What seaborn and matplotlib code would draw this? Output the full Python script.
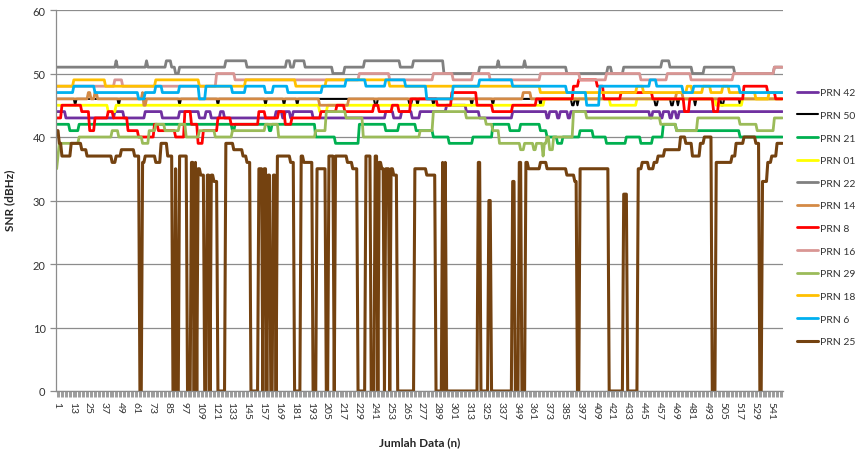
import numpy as np
import pandas as pd
import seaborn as sns
import matplotlib.pyplot as plt
from matplotlib.ticker import MultipleLocator

N = 550  # jumlah data

# (start index, SNR value) pairs, each value holds until the next start
prn42 = [(1, 44), (8, 43), (45, 44), (52, 43), (68, 44), (81, 43), (94, 44), (109, 43), (114, 44), (118, 43),
         (125, 44), (128, 43), (167, 44), (172, 43), (174, 44), (178, 43), (180, 44), (195, 43), (250, 44),
         (256, 43), (262, 44), (270, 43), (276, 44), (296, 45), (311, 44), (321, 43), (346, 44), (372, 43),
         (374, 44), (380, 43), (382, 44), (388, 43), (390, 44), (450, 43), (452, 44), (458, 43), (460, 44),
         (465, 43), (467, 44), (470, 43), (472, 44)]
prn50 = [(1, 46), (15, 45), (16, 46), (48, 45), (49, 46), (94, 45), (95, 46), (123, 45), (124, 46), (159, 45),
         (160, 46), (173, 45), (174, 46), (183, 45), (184, 46), (242, 45), (244, 46), (268, 45), (270, 46),
         (274, 45), (275, 46), (286, 45), (287, 46), (315, 45), (316, 46), (331, 45), (332, 46), (367, 45),
         (368, 46), (391, 45), (393, 46), (395, 45), (396, 46), (454, 45), (456, 46), (466, 45), (468, 46),
         (471, 45), (472, 46), (484, 45), (485, 46), (504, 45), (506, 46), (518, 45), (519, 46)]
prn21 = [(1, 42), (11, 41), (18, 42), (134, 41), (136, 42), (162, 41), (164, 42), (197, 40), (212, 39),
         (230, 42), (250, 41), (260, 42), (273, 41), (286, 40), (298, 39), (316, 40), (331, 42), (344, 41),
         (352, 42), (367, 41), (372, 40), (380, 39), (384, 40), (397, 41), (407, 40), (417, 39), (432, 40),
         (443, 39), (452, 40), (460, 42), (470, 41), (518, 40)]
prn01 = [(1, 45), (40, 44), (46, 45), (200, 44), (206, 45), (370, 46), (420, 45), (440, 46), (500, 45), (520, 46)]
prn22 = [(1, 51), (46, 52), (47, 51), (69, 52), (70, 51), (84, 52), (88, 51), (91, 50), (94, 51), (129, 52),
         (145, 51), (175, 52), (178, 51), (181, 52), (189, 51), (210, 50), (219, 51), (234, 52), (261, 51),
         (271, 52), (294, 50), (321, 51), (335, 52), (336, 51), (355, 52), (356, 51), (387, 50), (418, 51),
         (421, 50), (430, 51), (459, 52), (465, 51), (482, 50), (491, 51), (514, 50), (544, 51)]
prn14 = [(1, 46), (25, 47), (27, 46), (30, 47), (32, 46), (66, 47), (67, 45), (69, 46), (200, 45), (222, 46),
         (354, 47), (360, 46), (470, 47), (475, 46)]
prn8 = [(1, 43), (5, 45), (20, 44), (26, 41), (30, 43), (40, 44), (44, 43), (55, 41), (63, 40), (75, 42),
        (78, 41), (91, 40), (98, 44), (103, 42), (108, 39), (112, 41), (123, 43), (133, 42), (154, 44), (159, 43),
        (169, 44), (174, 42), (179, 43), (201, 44), (213, 45), (219, 44), (241, 45), (245, 44), (255, 45),
        (260, 44), (269, 46), (289, 45), (300, 47), (319, 45), (331, 44), (346, 45), (364, 46), (392, 48),
        (396, 49), (410, 48), (415, 46), (428, 47), (452, 46), (476, 44), (480, 46), (498, 44), (502, 46),
        (521, 48), (539, 47), (545, 46)]
prn16 = [(1, 48), (45, 49), (51, 48), (122, 50), (136, 49), (230, 50), (253, 49), (286, 50), (301, 49),
         (316, 50), (329, 49), (367, 50), (397, 49), (417, 50), (443, 49), (463, 50), (481, 49), (513, 50), (544, 51)]
prn29 = [(1, 35), (2, 37), (3, 39), (18, 40), (43, 41), (48, 40), (66, 39), (71, 41), (76, 42), (83, 41),
         (94, 42), (99, 40), (109, 41), (121, 40), (134, 41), (159, 42), (169, 40), (197, 41), (205, 44),
         (220, 43), (233, 40), (276, 41), (286, 44), (311, 43), (326, 42), (331, 41), (336, 39), (352, 38),
         (355, 39), (362, 38), (364, 39), (369, 37), (370, 39), (372, 40), (374, 38), (377, 40), (392, 44),
         (402, 43), (458, 42), (470, 41), (486, 43), (518, 42), (531, 41), (544, 43)]
prn18 = [(1, 48), (14, 49), (38, 48), (76, 49), (109, 48), (144, 49), (182, 48), (205, 49), (253, 48),
         (367, 47), (440, 48), (445, 47), (478, 48), (482, 47), (490, 48), (496, 47), (505, 48), (510, 47),
         (530, 46), (540, 47)]
prn6 = [(1, 47), (14, 48), (30, 47), (63, 46), (68, 47), (76, 48), (81, 47), (94, 48), (109, 46), (114, 48),
        (134, 47), (144, 48), (159, 47), (165, 48), (176, 47), (202, 48), (220, 49), (235, 48), (250, 49),
        (265, 48), (281, 46), (301, 48), (321, 49), (346, 48), (387, 47), (402, 45), (412, 48), (450, 49),
        (455, 48), (475, 47), (483, 48), (518, 47)]
prn25 = [(1, 41), (3, 39), (5, 37), (12, 39), (20, 38), (24, 37), (43, 36), (46, 37), (50, 38), (60, 37),
         (64, 0), (66, 36), (68, 37), (76, 36), (80, 39), (85, 37), (89, 0), (91, 35), (92, 0), (94, 37),
         (100, 0), (103, 36), (105, 0), (106, 36), (107, 0), (108, 35), (110, 34), (113, 0), (115, 34), (117, 0),
         (118, 34), (120, 33), (123, 0), (129, 39), (135, 38), (142, 37), (145, 36), (148, 0), (154, 35),
         (157, 0), (158, 35), (160, 0), (161, 34), (163, 0), (165, 34), (167, 0), (168, 37), (178, 36), (181, 0),
         (186, 37), (188, 36), (195, 0), (198, 35), (205, 0), (207, 37), (211, 0), (212, 37), (221, 36),
         (225, 35), (229, 0), (235, 37), (239, 0), (242, 37), (244, 0), (245, 36), (247, 35), (249, 0),
         (250, 35), (253, 0), (254, 35), (256, 34), (259, 0), (272, 35), (281, 34), (288, 0), (293, 36),
         (294, 0), (295, 36), (296, 0), (320, 36), (322, 0), (328, 30), (330, 0), (346, 33), (348, 0),
         (351, 36), (353, 0), (356, 36), (358, 35), (367, 36), (372, 35), (387, 34), (393, 33), (395, 0),
         (397, 35), (419, 0), (430, 31), (433, 0), (441, 35), (444, 36), (449, 35), (453, 36), (456, 37),
         (461, 38), (473, 40), (477, 39), (482, 37), (488, 39), (491, 40), (497, 0), (500, 36), (512, 37),
         (515, 39), (521, 40), (530, 39), (533, 0), (535, 33), (539, 36), (542, 37), (546, 39)]

xtick_pos = list(range(1, N + 1, 12))

series = [
    ("PRN 42", prn42, "#7030A0", 2.0),
    ("PRN 50", prn50, "#000000", 1.5),
    ("PRN 21", prn21, "#00B050", 2.0),
    ("PRN 01", prn01, "#FFFF00", 2.0),
    ("PRN 22", prn22, "#808080", 2.0),
    ("PRN 14", prn14, "#D48A45", 2.0),
    ("PRN 8", prn8, "#FF0000", 2.0),
    ("PRN 16", prn16, "#D99694", 2.0),
    ("PRN 29", prn29, "#9BBB59", 2.0),
    ("PRN 18", prn18, "#FFC000", 2.0),
    ("PRN 6", prn6, "#00B0F0", 2.0),
    ("PRN 25", prn25, "#744210", 2.2),
]


def expand(runs):
    starts = [s for s, v in runs] + [N + 1]
    vals = [v for s, v in runs]
    return np.repeat(vals, np.diff(starts))


sns.set_theme(style="white")
plt.rcParams['font.family'] = ['Lato', 'DejaVu Sans']

fig = plt.figure(figsize=(8.64, 4.56), dpi=100)
ax = fig.add_axes([56 / 864, 1 - 392 / 456, (783 - 56) / 864, (392 - 11) / 456])

n = np.arange(1, N + 1)
for name, runs, color, lw in series:
    df = pd.DataFrame({'n': n, 'snr': expand(runs)})
    sns.lineplot(x='n', y='snr', data=df, ax=ax, color=color, lw=lw, label=name, estimator=None)

grid_c = '#8c8c8c'
ax.set_xlim(0.5, N + 0.5)
ax.set_ylim(0, 60)
ax.set_yticks(range(0, 61, 10))
ax.yaxis.grid(True, color=grid_c, lw=0.9)
ax.xaxis.grid(False)
ax.set_axisbelow(True)
for side in ['top', 'right']:
    ax.spines[side].set_visible(False)
for side in ['left', 'bottom']:
    ax.spines[side].set_color(grid_c)
    ax.spines[side].set_linewidth(0.9)

ax.set_xticks(xtick_pos)
ax.set_xticklabels([str(v) for v in xtick_pos], rotation=-90, fontsize=7.5, color='#333333')
ax.xaxis.set_minor_locator(MultipleLocator(1))
# seaborn's white style hides the tick marks, bring them back
ax.tick_params(axis='x', which='both', bottom=True, direction='out', length=4, color=grid_c, width=0.6, pad=3)
ax.tick_params(axis='y', left=True, direction='out', length=4, color=grid_c, width=0.9, labelsize=8,
               labelcolor='#333333')

ax.set_xlabel('Jumlah Data (n)', fontweight='bold', fontsize=8.5)
ax.set_ylabel('SNR (dBHz)', fontweight='bold', fontsize=8.5)
ax.xaxis.set_label_coords(0.5, -(437 - 392) / 381)
ax.yaxis.set_label_coords(-41 / 727, 0.504)

ax.legend(loc='upper left', bbox_to_anchor=(797 / 864, 1 - 89 / 456), bbox_transform=fig.transFigure,
          frameon=False, fontsize=7.5, handlelength=2.0, handletextpad=0.2, labelspacing=1.28,
          borderaxespad=0, borderpad=0, labelcolor='#333333')

plt.savefig('out.png', dpi=100)
